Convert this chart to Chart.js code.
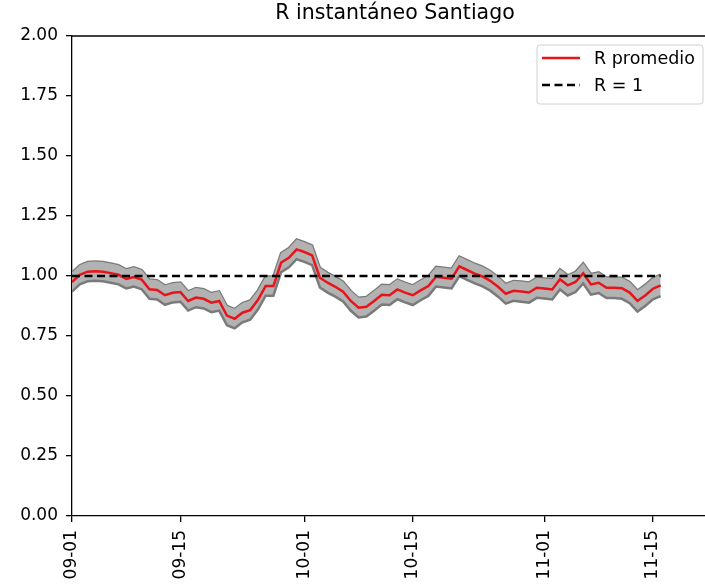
<!DOCTYPE html>
<html>
<head>
<meta charset="utf-8">
<script src="https://cdn.jsdelivr.net/npm/chart.js@4"></script>
<style>
  html, body { margin: 0; padding: 0; background: #fff; overflow: hidden; }
  canvas { display: block; }
</style>
</head>
<body>
<canvas id="rChart" width="720" height="586"></canvas>
<script>
// days counted from 09-01
const tickDays = [0, 14, 30, 44, 61, 75];
const tickLabels = ['09-01', '09-15', '10-01', '10-15', '11-01', '11-15'];

const rMean = [0.975, 1.005, 1.018, 1.02, 1.018, 1.012, 1.005, 0.988, 0.996, 0.985,
    0.945, 0.942, 0.92, 0.93, 0.933, 0.896, 0.91, 0.905, 0.889, 0.896,
    0.835, 0.822, 0.847, 0.858, 0.9, 0.958, 0.958, 1.056, 1.076, 1.111,
    1.1, 1.086, 0.993, 0.972, 0.955, 0.935, 0.896, 0.868, 0.872, 0.896,
    0.922, 0.92, 0.944, 0.931, 0.92, 0.94, 0.958, 0.997, 0.993, 0.989,
    1.04, 1.025, 1.01, 0.998, 0.98, 0.955, 0.926, 0.938, 0.935, 0.931,
    0.951, 0.948, 0.944, 0.986, 0.961, 0.975, 1.011, 0.965, 0.972, 0.951,
    0.951, 0.949, 0.931, 0.896, 0.919, 0.947, 0.961];

const rUpper = [1.015, 1.045, 1.058, 1.06, 1.058, 1.052, 1.045, 1.028, 1.036, 1.025,
    0.985, 0.982, 0.96, 0.97, 0.973, 0.936, 0.95, 0.945, 0.929, 0.936,
    0.875, 0.862, 0.887, 0.898, 0.94, 0.998, 0.998, 1.096, 1.116, 1.152,
    1.141, 1.127, 1.034, 1.013, 0.996, 0.976, 0.937, 0.909, 0.913, 0.937,
    0.963, 0.961, 0.985, 0.972, 0.961, 0.981, 0.999, 1.038, 1.034, 1.03,
    1.081, 1.066, 1.051, 1.039, 1.021, 0.996, 0.967, 0.979, 0.977, 0.973,
    0.993, 0.99, 0.986, 1.028, 1.003, 1.017, 1.053, 1.008, 1.015, 0.994,
    0.994, 0.993, 0.975, 0.94, 0.963, 0.991, 1.006];

const rLower = [0.935, 0.965, 0.978, 0.98, 0.978, 0.972, 0.965, 0.948, 0.956, 0.945,
    0.905, 0.902, 0.88, 0.89, 0.893, 0.856, 0.87, 0.865, 0.849, 0.856,
    0.795, 0.782, 0.807, 0.818, 0.86, 0.918, 0.918, 1.016, 1.036, 1.07,
    1.059, 1.045, 0.952, 0.931, 0.914, 0.894, 0.855, 0.827, 0.831, 0.855,
    0.881, 0.879, 0.903, 0.89, 0.879, 0.899, 0.917, 0.956, 0.952, 0.948,
    0.999, 0.984, 0.969, 0.957, 0.939, 0.914, 0.885, 0.897, 0.893, 0.889,
    0.909, 0.906, 0.902, 0.944, 0.919, 0.933, 0.969, 0.922, 0.929, 0.908,
    0.908, 0.905, 0.887, 0.852, 0.875, 0.903, 0.916];

const refValue = 1;

const FONT = 'DejaVu Sans';
const toPoints = arr => arr.map((v, i) => ({ x: i, y: v }));
const lastDay = rMean.length - 1;

// title, top spine and framed legend, drawn the matplotlib way
const decorations = {
    id: 'decorations',
    afterDraw(chart) {
        const ctx = chart.ctx;
        const area = chart.chartArea;
        ctx.save();

        ctx.strokeStyle = '#000';
        ctx.lineWidth = 1.3;
        ctx.beginPath();
        ctx.moveTo(area.left, area.top);
        ctx.lineTo(area.right, area.top);
        ctx.stroke();

        ctx.fillStyle = '#000';
        ctx.font = '20.5px "' + FONT + '"';
        ctx.textAlign = 'center';
        ctx.textBaseline = 'middle';
        ctx.fillText('R instantáneo Santiago', (area.left + area.right) / 2, 14);

        // legend box
        const bx = 537, by = 45, bw = 166, bh = 59, r = 3;
        ctx.beginPath();
        ctx.moveTo(bx + r, by);
        ctx.arcTo(bx + bw, by, bx + bw, by + bh, r);
        ctx.arcTo(bx + bw, by + bh, bx, by + bh, r);
        ctx.arcTo(bx, by + bh, bx, by, r);
        ctx.arcTo(bx, by, bx + bw, by, r);
        ctx.closePath();
        ctx.fillStyle = 'rgba(255,255,255,0.8)';
        ctx.fill();
        ctx.strokeStyle = '#d0d0d0';
        ctx.lineWidth = 1;
        ctx.stroke();

        const items = [chart.data.datasets[2], chart.data.datasets[3]];
        const rows = [58, 85];
        ctx.font = '17.5px "' + FONT + '"';
        ctx.textAlign = 'left';
        items.forEach((ds, k) => {
            ctx.beginPath();
            ctx.setLineDash(ds.borderDash || []);
            ctx.strokeStyle = ds.borderColor;
            ctx.lineWidth = ds.borderWidth;
            ctx.moveTo(542, rows[k]);
            ctx.lineTo(580, rows[k]);
            ctx.stroke();
            ctx.setLineDash([]);
            ctx.fillStyle = '#000';
            ctx.fillText(ds.label, 594, rows[k] + 1);
        });
        ctx.restore();
    }
};

const ctxR = document.getElementById('rChart').getContext('2d');
const rChart = new Chart(ctxR, {
    type: 'line',
    data: {
        datasets: [{
            label: 'upper',
            data: toPoints(rUpper),
            borderColor: '#7a7a7a',
            borderWidth: 2.5,
            pointRadius: 0,
            fill: false,
            order: 3
        }, {
            label: 'lower',
            data: toPoints(rLower),
            borderColor: '#7a7a7a',
            backgroundColor: '#b2b2b2',
            borderWidth: 2.5,
            pointRadius: 0,
            fill: '-1',
            order: 2
        }, {
            label: 'R promedio',
            data: toPoints(rMean),
            borderColor: '#e8141a',
            borderWidth: 2.5,
            pointRadius: 0,
            fill: false,
            order: 1
        }, {
            label: 'R = 1',
            data: [{ x: 0, y: refValue }, { x: lastDay, y: refValue }],
            borderColor: '#000',
            borderWidth: 2.5,
            borderDash: [8, 4.5],
            pointRadius: 0,
            fill: false,
            order: 0
        }]
    },
    options: {
        responsive: false,
        animation: false,
        layout: {
            padding: { top: 36, right: 2, left: 0, bottom: 0 }
        },
        plugins: {
            legend: { display: false },
            title: { display: false },
            tooltip: { enabled: false }
        },
        scales: {
            x: {
                type: 'linear',
                min: 0,
                max: 83.4,
                afterBuildTicks: scale => {
                    scale.ticks = tickDays.map(v => ({ value: v }));
                },
                afterFit: scale => { scale.height = 70; },
                ticks: {
                    autoSkip: false,
                    minRotation: 90,
                    maxRotation: 90,
                    padding: 8,
                    color: '#000',
                    font: { family: FONT, size: 17 },
                    callback: value => tickLabels[tickDays.indexOf(value)]
                },
                grid: {
                    drawOnChartArea: false,
                    drawTicks: true,
                    tickLength: 6,
                    color: '#000',
                    lineWidth: 1.3
                },
                border: { display: true, color: '#000', width: 1.3 }
            },
            y: {
                min: 0,
                max: 2,
                afterFit: scale => { scale.width = 72; },
                ticks: {
                    stepSize: 0.25,
                    padding: 8,
                    color: '#000',
                    font: { family: FONT, size: 17 },
                    callback: value => value.toFixed(2)
                },
                grid: {
                    drawOnChartArea: false,
                    drawTicks: true,
                    tickLength: 6,
                    color: '#000',
                    lineWidth: 1.3
                },
                border: { display: true, color: '#000', width: 1.3 }
            }
        }
    },
    plugins: [decorations]
});
</script>
</body>
</html>
